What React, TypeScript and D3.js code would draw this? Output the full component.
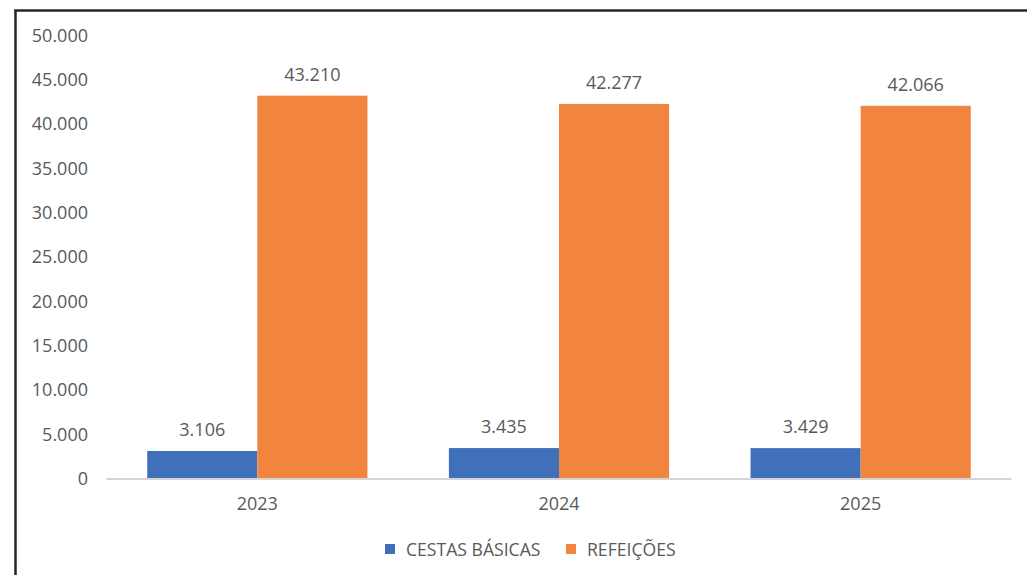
import React from "react";
import * as d3 from "d3";

const categories = ["2023", "2024", "2025"];
const seriesNames = ["CESTAS BÁSICAS", "REFEIÇÕES"];
const cestasBasicas = [3106, 3435, 3429];
const refeicoes = [43210, 42277, 42066];
const yTicks = [0, 5000, 10000, 15000, 20000, 25000, 30000, 35000, 40000, 45000, 50000];
const colors = ["#4170BA", "#F1843F"];

const W = 1027;
const H = 575;
const FONT = "'Open Sans', 'Noto Sans', sans-serif";
const TEXT = "#595959";
const DY = 1.5;

const locale = d3.formatLocale({ decimal: ",", thousands: ".", grouping: [3], currency: ["R$", ""] });
const fmt = locale.format(",d");

export default function App() {
  const x0 = d3.scaleBand<string>().domain(categories).range([106.5, 1011.5]).paddingInner(0.27).paddingOuter(0.135);
  const x1 = d3.scaleBand<string>().domain(seriesNames).range([0, x0.bandwidth()]).padding(0);
  const y = d3.scaleLinear().domain([0, 50000]).range([478.5, 35.5]);
  const series = [cestasBasicas, refeicoes];

  return (
    <svg width={W} height={H} style={{ position: "absolute", left: 0, top: 0, background: "#fff" }} fontFamily={FONT}>
      <rect x={0} y={0} width={W} height={H} fill="#fff" />
      {/* frame */}
      <line x1={15.5} y1={10} x2={15.5} y2={H} stroke="#262626" strokeWidth={2.5} />
      <line x1={14.25} y1={10.5} x2={W} y2={10.5} stroke="#262626" strokeWidth={2.5} />
      {/* y tick labels */}
      {yTicks.map((t) => (
        <text key={t} x={88} y={y(t) + DY} textAnchor="end" dominantBaseline="middle" fontSize={18} fill={TEXT}>
          {fmt(t)}
        </text>
      ))}
      {/* bars */}
      {categories.map((c, i) => (
        <g key={c} transform={`translate(${x0(c)},0)`}>
          {seriesNames.map((s, j) => {
            const v = series[j][i];
            const bx = x1(s)!;
            return (
              <g key={s}>
                <rect x={bx} y={y(v)} width={x1.bandwidth()} height={y(0) - y(v)} fill={colors[j]} />
                <text x={bx + x1.bandwidth() / 2} y={y(v) - 21 + DY} textAnchor="middle" dominantBaseline="middle" fontSize={18} fill={TEXT}>
                  {fmt(v)}
                </text>
              </g>
            );
          })}
          <text x={x0.bandwidth() / 2} y={504 + DY} textAnchor="middle" dominantBaseline="middle" fontSize={18} fill={TEXT}>
            {c}
          </text>
        </g>
      ))}
      {/* axis line */}
      <line x1={x0.range()[0]} x2={x0.range()[1]} y1={479} y2={479} stroke="#d4d4d4" strokeWidth={2} />
      {/* legend */}
      <g>
        <rect x={385} y={544} width={10} height={10} fill={colors[0]} />
        <text x={406} y={549.5 + DY} dominantBaseline="middle" fontSize={17.6} fill={TEXT}>{seriesNames[0]}</text>
        <rect x={566} y={544} width={10} height={10} fill={colors[1]} />
        <text x={587} y={549.5 + DY} dominantBaseline="middle" fontSize={17.6} fill={TEXT}>{seriesNames[1]}</text>
      </g>
    </svg>
  );
}
